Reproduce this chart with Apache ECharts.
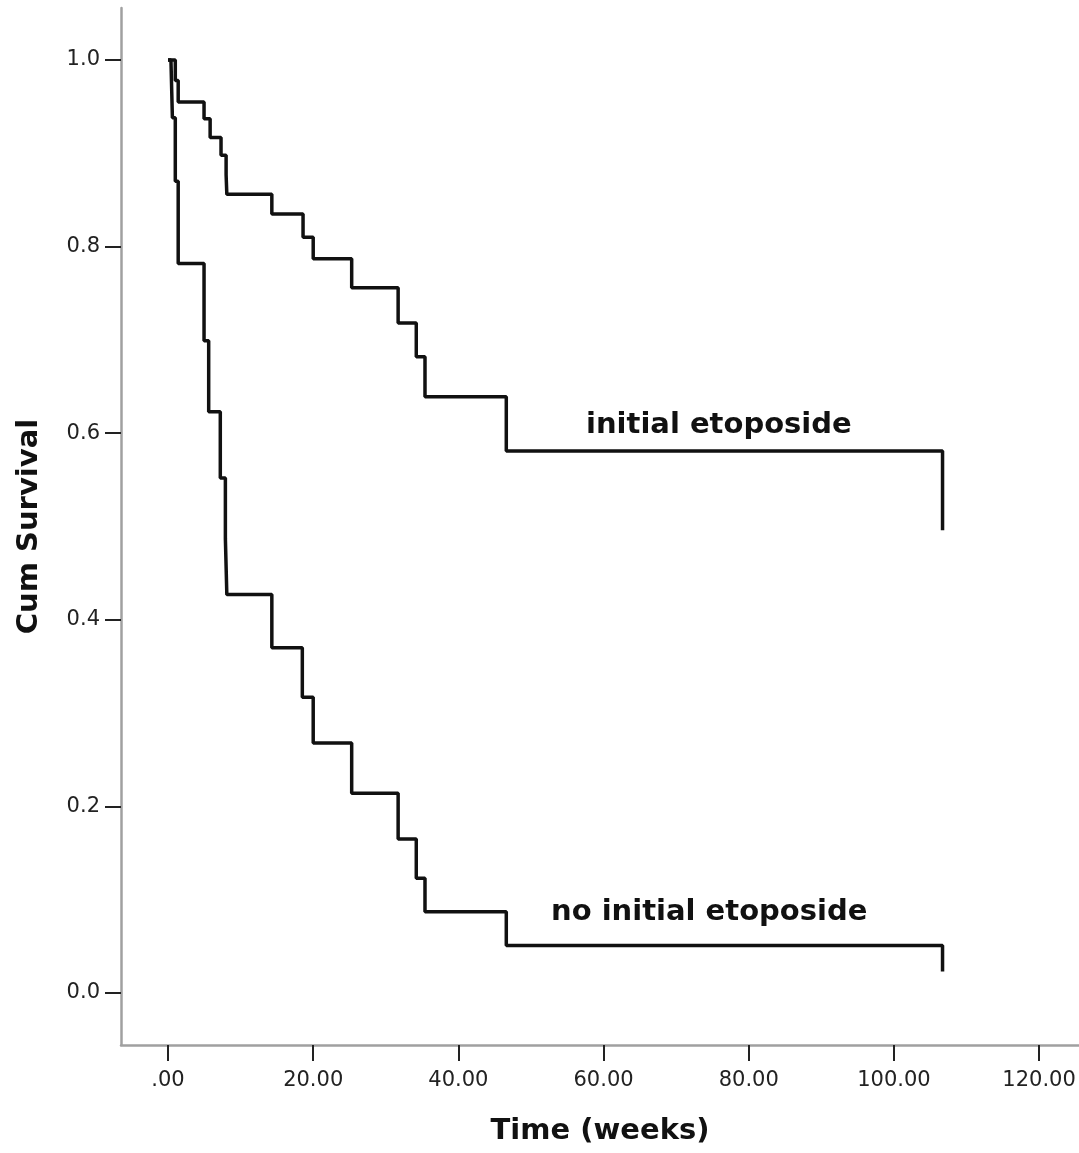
<!DOCTYPE html>
<html>
<head>
<meta charset="utf-8">
<script src="https://cdn.jsdelivr.net/npm/echarts@6/dist/echarts.min.js"></script>
<style>
html,body{margin:0;padding:0;background:#fff;}
#chart{width:1079px;height:1153px;}
</style>
</head>
<body>
<div id="chart"></div>
<script>
// Kaplan-Meier step data: [time (weeks), cumulative survival after event]
const etoposideTimes = [0, 0.6, 1.0, 1.4, 4.96, 5.8, 7.3, 8.0, 8.1, 14.3, 18.6, 20.0, 25.3, 31.7, 34.2, 35.4, 46.6, 106.7];
const etoposideSurv  = [1.0, 1.0, 0.978, 0.955, 0.937, 0.917, 0.898, 0.877, 0.856, 0.835, 0.810, 0.787, 0.756, 0.718, 0.682, 0.639, 0.581, 0.496];

const noEtoposideTimes = [0, 0.4, 0.6, 1.0, 1.4, 4.96, 5.6, 7.2, 7.9, 8.1, 14.3, 18.5, 20.0, 25.3, 31.7, 34.2, 35.4, 46.6, 106.7];
const noEtoposideSurv  = [1.0, 1.0, 0.938, 0.870, 0.782, 0.699, 0.623, 0.552, 0.487, 0.427, 0.370, 0.317, 0.268, 0.214, 0.165, 0.123, 0.087, 0.051, 0.023];

const xTicks = [0, 20, 40, 60, 80, 100, 120];
const yTicks = [0, 0.2, 0.4, 0.6, 0.8, 1.0];

const curveLabels = ['initial etoposide', 'no initial etoposide'];
const xTitle = 'Time (weeks)';
const yTitle = 'Cum Survival';

const zip = (t, s) => t.map((v, i) => [v, s[i]]);

const chart = echarts.init(document.getElementById('chart'), null, {renderer: 'canvas'});
const axisColor = '#a0a0a0';
const tickFont = '"DejaVu Sans", sans-serif';
const titleFont = '"DejaVu Sans", sans-serif';

chart.setOption({
  animation: false,
  backgroundColor: '#ffffff',
  grid: {left: 121, top: 8, right: 0, bottom: 108, containLabel: false},
  xAxis: {
    type: 'value',
    min: -6.48,
    max: 125.5,
    splitLine: {show: false},
    axisLine: {show: true, onZero: false, lineStyle: {color: axisColor, width: 2.5}},
    axisTick: {show: true, customValues: xTicks, length: 16, inside: false, lineStyle: {color: '#222', width: 2}},
    axisLabel: {
      show: true, customValues: xTicks, margin: 25, color: '#222', fontSize: 21,
      fontFamily: tickFont,
      formatter: v => v === 0 ? '.00' : Number(v).toFixed(2)
    },
    name: xTitle,
    nameLocation: 'middle',
    nameGap: 72,
    nameTextStyle: {fontSize: 29, fontWeight: 'bold', color: '#111', fontFamily: titleFont}
  },
  yAxis: {
    type: 'value',
    min: -0.0557,
    max: 1.0557,
    splitLine: {show: false},
    axisLine: {show: true, onZero: false, lineStyle: {color: axisColor, width: 2.5}},
    axisTick: {show: true, customValues: yTicks, length: 16, inside: false, lineStyle: {color: '#222', width: 2}},
    axisLabel: {
      show: true, customValues: yTicks, margin: 21, color: '#222', fontSize: 21,
      fontFamily: tickFont,
      formatter: v => Number(v).toFixed(1)
    },
    name: yTitle,
    nameLocation: 'middle',
    nameGap: 77,
    nameRotate: 90,
    nameTextStyle: {fontSize: 29, fontWeight: 'bold', color: '#111', fontFamily: titleFont}
  },
  series: [
    {
      name: curveLabels[0],
      type: 'line',
      step: 'end',
      symbol: 'none',
      data: zip(etoposideTimes, etoposideSurv),
      lineStyle: {color: '#111', width: 3.5}
    },
    {
      name: curveLabels[1],
      type: 'line',
      step: 'end',
      symbol: 'none',
      data: zip(noEtoposideTimes, noEtoposideSurv),
      lineStyle: {color: '#111', width: 3.5}
    }
  ],
  graphic: [
    {type: 'text', left: 586, top: 411, style: {text: curveLabels[0], fontSize: 29, fontWeight: 'bold', fill: '#111', fontFamily: titleFont}},
    {type: 'text', left: 551, top: 898, style: {text: curveLabels[1], fontSize: 29, fontWeight: 'bold', fill: '#111', fontFamily: titleFont}}
  ]
});
</script>
</body>
</html>
